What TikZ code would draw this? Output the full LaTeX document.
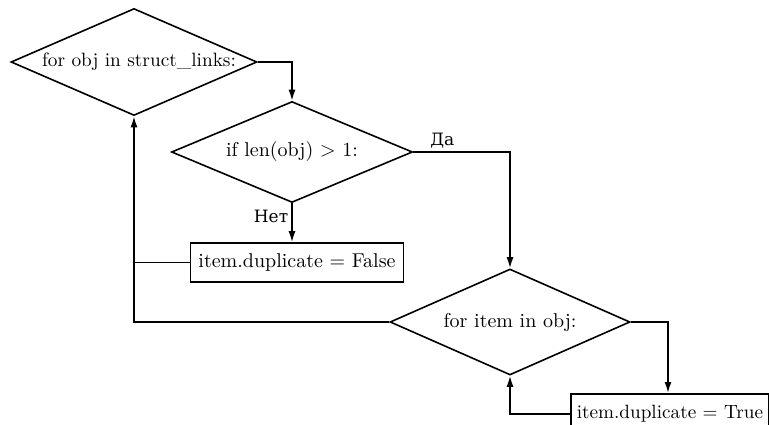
\documentclass[tikz,border=0pt]{standalone}
\usepackage{fontspec}
\setmainfont{lmroman10-regular}[Extension=.otf]
\newfontfamily\cyrfont{DejaVu Serif}
\usetikzlibrary{shapes.geometric,arrows.meta}
\begin{document}
\begin{tikzpicture}[x=1pt,y=-1pt,
  every node/.style={font=\fontsize{20}{24}\selectfont},
  dec/.style={diamond, draw, line width=1.6pt, inner sep=0pt},
  proc/.style={rectangle, draw, line width=1.6pt, inner ysep=0pt, inner xsep=7pt},
  flow/.style={line width=1.6pt, -{Latex[length=11pt,width=7pt]}},
  plain/.style={line width=1.6pt},
  lbl/.style={font=\cyrfont\fontsize{17}{20}\selectfont, inner sep=3pt}]
\useasboundingbox (0,0) rectangle (769,425);
\clip (0,0) rectangle (769,425);
\node[dec, minimum width=246pt, minimum height=107pt] (d1) at (134,62) {\makebox[0pt]{\fontsize{19.3}{23}\selectfont\hspace*{10pt}for obj in struct\_links:}};
\node[dec, minimum width=241pt, minimum height=101pt] (d2) at (292,152) {\makebox[0pt]{if len(obj) $>$ 1:}};
\node[proc, minimum width=213pt, minimum height=39pt] (f) at (297,262.5) {item.duplicate = False};
\node[dec, minimum width=240pt, minimum height=106pt] (d3) at (510,322) {\makebox[0pt]{for item in obj:}};
\node[proc, minimum height=40pt, inner xsep=6pt, anchor=north west, font=\fontsize{19.2}{23}\selectfont] (t) at (570,393) {item.duplicate = True};
\draw[flow] (d1.east) -| (d2.north);
\draw[flow] (d2.east) -| (d3.north) node[lbl, pos=0.15, above] {Да};
\draw[flow] (d2.south) -- (d2.south |- f.north) node[lbl, pos=0.35, left] {Нет};
\draw[flow] (d3.east) -| ([xshift=98pt]t.north west);
\draw[flow] (t.west) -| (d3.south);
\draw[plain] (f.west) -- (f.west -| d1.south);
\draw[flow] (d3.west) -| (d1.south);
\end{tikzpicture}
\end{document}
